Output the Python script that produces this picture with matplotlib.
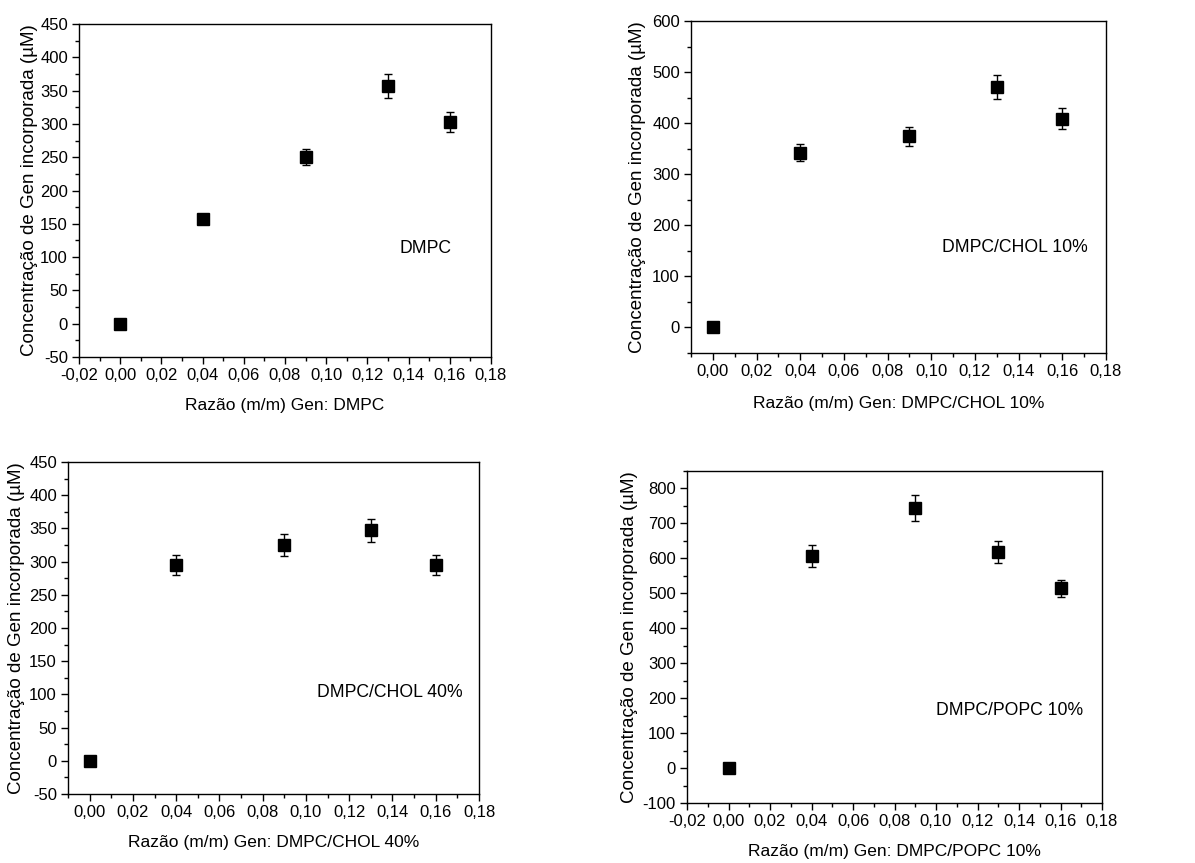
import matplotlib.pyplot as plt
from matplotlib.ticker import FuncFormatter, MultipleLocator

plt.rcParams["font.family"] = ["Liberation Sans", "DejaVu Sans"]

# ---------------------------------------------------------------------------
# Data
# ---------------------------------------------------------------------------
ratio = [0.00, 0.04, 0.09, 0.13, 0.16]

dmpc = [0, 157, 250, 357, 303]
dmpc_err = [0, 6, 12, 18, 15]

chol10 = [0, 342, 374, 471, 409]
chol10_err = [0, 17, 19, 23, 21]

chol40 = [0, 295, 325, 347, 295]
chol40_err = [0, 15, 17, 17, 15]

popc10 = [0, 607, 743, 619, 514]
popc10_err = [0, 31, 37, 31, 25]

names = ["DMPC", "DMPC/CHOL 10%", "DMPC/CHOL 40%", "DMPC/POPC 10%"]
ylabel = "Concentração de Gen incorporada (µM)"

W, H = 1195, 863


def comma(v, _pos):
    return f"{v:.2f}".replace(".", ",")


def add_panel(fig, box, y, err, name, xlim, ylim, ymajor, yminor,
              label_px, text_pos):
    left, top, right, bottom = box
    ax = fig.add_axes([left / W, 1 - bottom / H,
                       (right - left) / W, (bottom - top) / H])
    ax.errorbar(ratio, y, yerr=err, fmt="s", color="black", ms=8,
                ecolor="black", elinewidth=1.0, capsize=3, capthick=1.0)
    ax.set_xlim(*xlim)
    ax.set_ylim(*ylim)
    ax.xaxis.set_major_locator(MultipleLocator(0.02))
    ax.xaxis.set_minor_locator(MultipleLocator(0.01))
    ax.yaxis.set_major_locator(MultipleLocator(ymajor))
    ax.yaxis.set_minor_locator(MultipleLocator(yminor))
    ax.xaxis.set_major_formatter(FuncFormatter(comma))
    ax.yaxis.set_major_formatter(FuncFormatter(lambda v, p: f"{v:.0f}"))
    ax.tick_params(which="major", direction="out", length=5, width=1,
                   labelsize=12, pad=3)
    ax.tick_params(which="minor", direction="out", length=3, width=1)
    for s in ax.spines.values():
        s.set_linewidth(1.0)

    ax.set_xlabel(f"Razão (m/m) Gen: {name}", fontsize=12.5)
    ax.set_ylabel(ylabel, fontsize=13.5)
    # label_px: right edge of the y label, top edge of the x label (pixels)
    ylab_x, xlab_y = label_px
    ax.yaxis.set_label_coords((ylab_x - left) / (right - left), 0.5)
    ax.xaxis.set_label_coords(0.5, (bottom - xlab_y) / (bottom - top))

    ax.text(text_pos[0], text_pos[1], name, transform=ax.transAxes,
            fontsize=12.7, ha="center", va="center")
    return ax


fig = plt.figure(figsize=(W / 100, H / 100), dpi=100)

add_panel(fig, (79, 24, 491, 357), dmpc, dmpc_err, names[0],
          (-0.02, 0.18), (-50, 450), 50, 25, (38, 398), (0.842, 0.327))
add_panel(fig, (691, 21, 1106, 353), chol10, chol10_err, names[1],
          (-0.01, 0.18), (-50, 600), 100, 50, (646, 396), (0.78, 0.319))
add_panel(fig, (68, 462, 479, 794), chol40, chol40_err, names[2],
          (-0.01, 0.18), (-50, 450), 50, 25, (25, 835), (0.783, 0.307))
add_panel(fig, (687, 471, 1102, 803), popc10, popc10_err, names[3],
          (-0.02, 0.18), (-100, 850), 100, 50, (638, 844), (0.778, 0.28))

fig.savefig("out.png", dpi=100, facecolor="white")
